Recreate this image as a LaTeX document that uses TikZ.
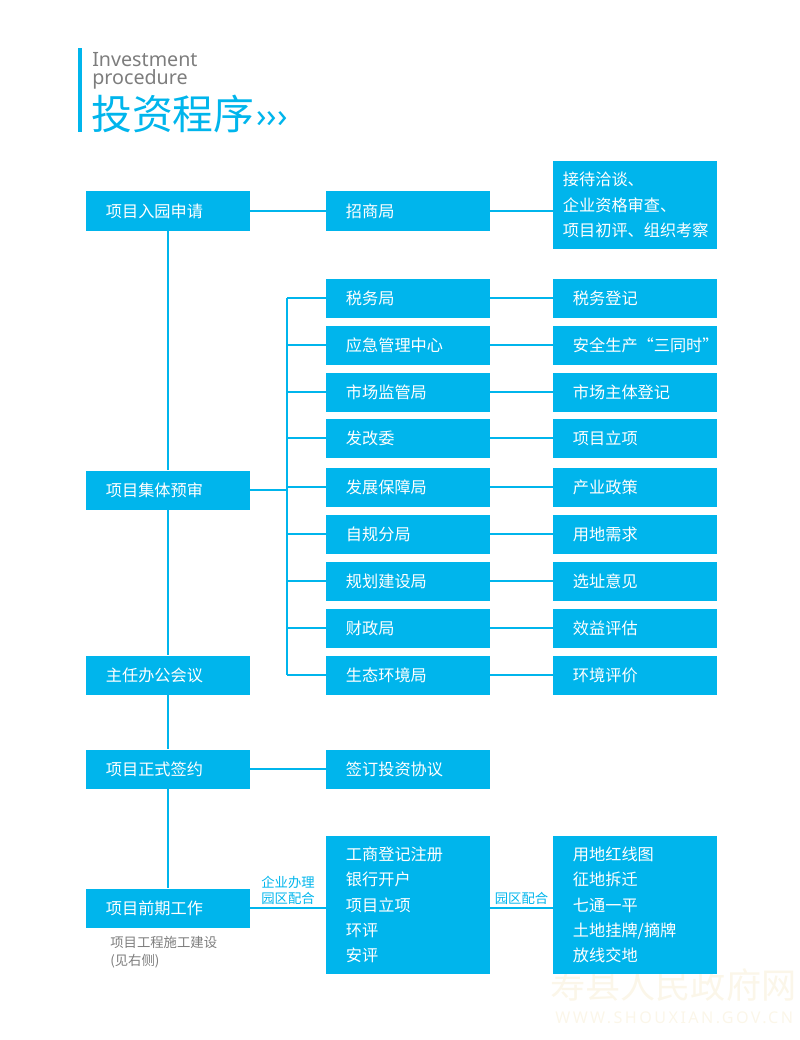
\documentclass[tikz,border=0pt]{standalone}
\usepackage{fontspec}
\setmainfont{Noto Sans CJK SC}
\newfontfamily\latinfont{Noto Sans}
\newfontfamily\wmfont[LetterSpace=15]{Noto Sans}
\definecolor{skyblue}{RGB}{0,181,236}
\definecolor{textgray}{RGB}{125,125,125}
\definecolor{wmbeige}{RGB}{251,246,233}

\begin{document}
\begin{tikzpicture}[x=0.025cm, y=-0.025cm, font=\fontsize{11.5}{18}\selectfont,
  box/.style={fill=skyblue, text=white, text width=3.7cm, inner xsep=0.2cm, inner ysep=0pt, minimum height=0.975cm, align=left, execute at begin node={\leftskip=0.3cm}},
  link/.style={draw=skyblue, line width=1.4pt},
  lbl/.style={text=skyblue, font=\fontsize{9.5}{11.5}\selectfont, inner sep=1.5pt, align=left}]
	\useasboundingbox (0,0) rectangle (800,1040);
	% watermark
	\node[anchor=base west, inner sep=0pt, text=wmbeige, font=\fontsize{25}{25}\selectfont] (wm1) at (550,998) {寿县人民政府网};
	\node[anchor=base west, inner sep=0pt, text=wmbeige, font=\wmfont\fontsize{11.5}{12}\selectfont] (wm2) at (555,1023) {WWW.SHOUXIAN.GOV.CN};
	% title
	\fill[skyblue] (78,48) rectangle (82,132);
	\node[anchor=base west, inner sep=0pt, text=textgray, font=\latinfont\fontsize{14}{17}\selectfont] (en1) at (92,66) {Investment};
	\node[anchor=base west, inner sep=0pt, text=textgray, font=\latinfont\fontsize{14}{17}\selectfont] (en2) at (92,84) {procedure};
	\node[anchor=base west, inner sep=0pt, text=skyblue, font=\fontsize{29}{30}\selectfont] (cntitle) at (91,129) {投资程序};
	\node[anchor=base west, inner sep=0pt, text=skyblue, font=\latinfont\bfseries\fontsize{24}{24}\selectfont] (chev) at (256,127) {›››};
	% main column
	\node[box] (apply) at (168,211) {项目入园申请};
	\node[box] (review) at (168,490) {项目集体预审};
	\node[box] (meeting) at (168,675) {主任办公会议};
	\node[box] (sign) at (168,769) {项目正式签约};
	\node[box] (prework) at (168,908) {项目前期工作};
	\draw[link] (apply) -- (review) -- (meeting) -- (sign) -- (prework);
	\node[anchor=north west, inner sep=0pt, text=textgray, font=\fontsize{9.5}{13}\selectfont, align=left] (note) at (110,936) {项目工程施工建设\\(见右侧)};
	% investment bureau
	\node[box] (invest) at (408,211) {招商局};
	\node[box, minimum height=2.2cm, execute at begin node={\leftskip=0.05cm}] (talks) at (635,205) {接待洽谈、\\企业资格审查、\\项目初评、组织考察};
	\draw[link] (apply) -- (invest);
	\draw[link] (invest.east) -- (invest.east -| talks.west);
	% joint review
	\coordinate (bkt) at (287,298);
	\coordinate (bkb) at (287,675);
	\draw[link] (bkt) -- (bkb);
	\draw[link] (review.east) -- (review.east -| bkt);
	\foreach \i/\y/\dept/\task in {1/298/税务局/税务登记, 2/345/应急管理中心/安全生产“三同时”, 3/392/市场监管局/市场主体登记, 4/438/发改委/项目立项, 5/487/发展保障局/产业政策, 6/534/自规分局/用地需求, 7/581/规划建设局/选址意见, 8/628/财政局/效益评估, 9/675/生态环境局/环境评价} {
		\node[box] (dept\i) at (408,\y) {\dept};
		\node[box] (task\i) at (635,\y) {\task};
		\draw[link] (dept\i) -- (task\i);
		\draw[link] (dept\i.west) -- (dept\i.west -| bkt);
	}
	% signing and preparation
	\node[box] (contract) at (408,769) {签订投资协议};
	\draw[link] (sign) -- (contract);
	\node[box, minimum height=3.425cm] (register) at (408,905) {工商登记注册\\银行开户\\项目立项\\环评\\安评};
	\node[box, minimum height=3.425cm] (land) at (635,905) {用地红线图\\征地拆迁\\七通一平\\土地挂牌/摘牌\\放线交地};
	\draw[link] (prework.east) -- node[lbl, above] (lbl1) {企业办理\\园区配合} (prework.east -| register.west);
	\draw[link] (prework.east -| register.east) -- node[lbl, above] (lbl2) {园区配合} (prework.east -| land.west);
\end{tikzpicture}
\end{document}
